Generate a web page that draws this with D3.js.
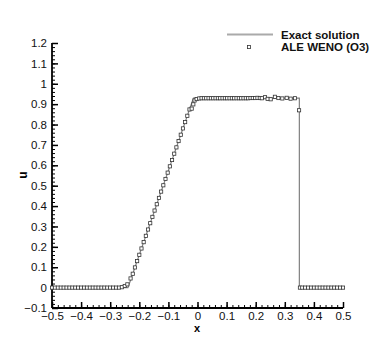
<!DOCTYPE html>
<html>
<head>
<meta charset="utf-8">
<script src="https://cdn.jsdelivr.net/npm/d3@7"></script>
<style>
  body { margin: 0; background: #fff; }
  text { font-family: "Liberation Sans", Arial, sans-serif; }
</style>
</head>
<body>
<div id="chart"></div>
<script>
// exact solution (piecewise linear)
var exactX = [-0.5, -0.239, -0.014, 0.35, 0.35, 0.5];
var exactU = [0, 0, 0.93, 0.93, 0, 0];

// ALE WENO (O3) cell values
var aleX = [-0.5, -0.49, -0.48, -0.47, -0.46, -0.45, -0.44, -0.43, -0.42, -0.41,
  -0.4, -0.39, -0.38, -0.37, -0.36, -0.35, -0.34, -0.33, -0.32, -0.31,
  -0.3, -0.29, -0.28, -0.27, -0.26, -0.25, -0.241,
  -0.23, -0.2225, -0.215, -0.2075, -0.2, -0.1925, -0.185, -0.1775, -0.17, -0.1625,
  -0.155, -0.1475, -0.14, -0.1325, -0.125, -0.1175, -0.11, -0.1025, -0.095, -0.0875,
  -0.08, -0.0725, -0.065, -0.0575, -0.05, -0.0425, -0.035, -0.0275, -0.02,
  -0.0144, -0.01, -0.003,
  0.006, 0.014, 0.022, 0.03, 0.038, 0.046, 0.054, 0.062, 0.07, 0.078,
  0.086, 0.094, 0.102, 0.11, 0.118, 0.126, 0.134, 0.142, 0.15, 0.158,
  0.166, 0.174, 0.182, 0.19, 0.198, 0.206, 0.214, 0.221,
  0.232, 0.241, 0.2515, 0.266, 0.278, 0.2915, 0.3065, 0.32, 0.335, 0.349,
  0.352, 0.36, 0.37, 0.38, 0.39, 0.4, 0.41, 0.42, 0.43, 0.44,
  0.45, 0.46, 0.47, 0.48, 0.49, 0.5];
var aleU = [0, 0, 0, 0, 0, 0, 0, 0, 0, 0,
  0, 0, 0, 0, 0, 0, 0, 0, 0, 0,
  0, 0, 0, 0, 0.002, 0.008, 0.016,
  0.045, 0.068, 0.099, 0.13, 0.161, 0.192, 0.223, 0.254, 0.285, 0.316,
  0.347, 0.378, 0.409, 0.44, 0.471, 0.502, 0.533, 0.564, 0.595, 0.626,
  0.657, 0.688, 0.719, 0.75, 0.781, 0.812, 0.843, 0.874, 0.878,
  0.899, 0.918, 0.925,
  0.928, 0.929, 0.929, 0.929, 0.929, 0.929, 0.929, 0.929, 0.929, 0.929,
  0.929, 0.929, 0.929, 0.929, 0.929, 0.929, 0.929, 0.929, 0.929, 0.929,
  0.929, 0.929, 0.93, 0.93, 0.93, 0.931, 0.93, 0.929,
  0.934, 0.926, 0.924, 0.936, 0.93, 0.928, 0.931, 0.927, 0.929, 0.87,
  0, 0, 0, 0, 0, 0, 0, 0, 0, 0,
  0, 0, 0, 0, 0, 0];

var xTicks = [-0.5, -0.4, -0.3, -0.2, -0.1, 0, 0.1, 0.2, 0.3, 0.4, 0.5];
var yTicks = [-0.1, 0, 0.1, 0.2, 0.3, 0.4, 0.5, 0.6, 0.7, 0.8, 0.9, 1, 1.1, 1.2];

var W = 390, H = 347;
var svg = d3.select("#chart").append("svg")
  .attr("width", W).attr("height", H)
  .style("background", "#fff");

var x = d3.scaleLinear().domain([-0.5, 0.5]).range([52, 343]);
var y = d3.scaleLinear().domain([-0.1, 1.2]).range([308, 43]);

// minor ticks every 0.02
var xMinor = d3.range(-50, 51, 2).map(function(d) { return d / 100; });
var yMinor = d3.range(-10, 121, 2).map(function(d) { return d / 100; });

var fmt = function(d) { return d3.format("")(+d.toFixed(1)); };

// x axis
svg.append("g").attr("transform", "translate(0," + y(-0.1) + ")")
  .call(d3.axisTop(x).tickValues(xMinor).tickSize(3).tickFormat(""))
  .call(function(g) { g.select(".domain").remove(); g.selectAll("line").attr("stroke", "#000").attr("stroke-width", 1); });
svg.append("g").attr("transform", "translate(0," + y(-0.1) + ")")
  .call(d3.axisBottom(x).tickValues(xTicks).tickSize(0).tickPadding(3.5).tickFormat(fmt))
  .call(function(g) {
    g.select(".domain").remove();
    g.selectAll("text").attr("font-size", 11.5).attr("fill", "#111")
      .style("font-family", "'Liberation Sans', Arial, sans-serif");
  });
svg.append("g").attr("transform", "translate(0," + y(-0.1) + ")")
  .call(d3.axisTop(x).tickValues(xTicks).tickSize(6).tickFormat(""))
  .call(function(g) { g.select(".domain").remove(); g.selectAll("line").attr("stroke", "#000").attr("stroke-width", 1.5); });

// y axis
svg.append("g").attr("transform", "translate(" + x(-0.5) + ",0)")
  .call(d3.axisRight(y).tickValues(yMinor).tickSize(3).tickFormat(""))
  .call(function(g) { g.select(".domain").remove(); g.selectAll("line").attr("stroke", "#000").attr("stroke-width", 1); });
svg.append("g").attr("transform", "translate(" + x(-0.5) + ",0)")
  .call(d3.axisLeft(y).tickValues(yTicks).tickSize(0).tickPadding(5).tickFormat(fmt))
  .call(function(g) {
    g.select(".domain").remove();
    g.selectAll("text").attr("font-size", 11.5).attr("fill", "#111")
      .style("font-family", "'Liberation Sans', Arial, sans-serif");
  });
svg.append("g").attr("transform", "translate(" + x(-0.5) + ",0)")
  .call(d3.axisRight(y).tickValues(yTicks).tickSize(6).tickFormat(""))
  .call(function(g) { g.select(".domain").remove(); g.selectAll("line").attr("stroke", "#000").attr("stroke-width", 1.5); });

// axis lines
svg.append("line").attr("x1", x(-0.5)).attr("x2", x(0.5)).attr("y1", y(-0.1)).attr("y2", y(-0.1))
  .attr("stroke", "#000").attr("stroke-width", 1.8);
svg.append("line").attr("x1", x(-0.5)).attr("x2", x(-0.5)).attr("y1", y(-0.1)).attr("y2", y(1.2))
  .attr("stroke", "#000").attr("stroke-width", 1.8);

// axis titles
svg.append("text").attr("x", 197).attr("y", 332).attr("text-anchor", "middle")
  .attr("font-size", 11).attr("font-weight", "bold").text("x");
svg.append("text").attr("transform", "translate(27,175) rotate(-90)").attr("text-anchor", "middle")
  .attr("font-size", 12).attr("font-weight", "bold").text("u");

// exact solution
var line = d3.line().x(function(d) { return x(d[0]); }).y(function(d) { return y(d[1]); });
svg.append("path").datum(d3.zip(exactX, exactU))
  .attr("d", line).attr("fill", "none").attr("stroke", "#808080").attr("stroke-width", 1.2);

// ALE WENO markers
var s = 3.2;
svg.append("g").selectAll("rect").data(d3.zip(aleX, aleU)).enter().append("rect")
  .attr("x", function(d) { return x(d[0]) - s / 2; })
  .attr("y", function(d) { return y(d[1]) - s / 2; })
  .attr("width", s).attr("height", s)
  .attr("fill", "#fff").attr("stroke", "#333").attr("stroke-width", 0.8);

// legend
var lg = svg.append("g");
lg.append("line").attr("x1", 227).attr("x2", 273).attr("y1", 34.5).attr("y2", 34.5)
  .attr("stroke", "#aaa").attr("stroke-width", 2);
lg.append("text").attr("x", 281).attr("y", 38.5).attr("font-size", 11.5).attr("font-weight", "bold")
  .attr("fill", "#111").text("Exact solution");
lg.append("rect").attr("x", 249 - s / 2).attr("y", 47 - s / 2).attr("width", s).attr("height", s)
  .attr("fill", "#fff").attr("stroke", "#333").attr("stroke-width", 0.8);
lg.append("text").attr("x", 281).attr("y", 51).attr("font-size", 11.5).attr("font-weight", "bold")
  .attr("fill", "#111").text("ALE WENO (O3)");
</script>
</body>
</html>
